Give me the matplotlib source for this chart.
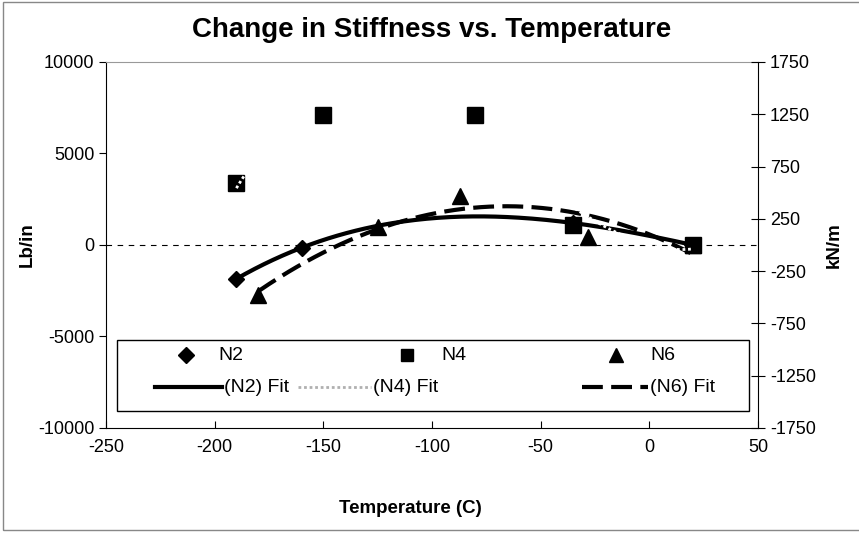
import numpy as np
import matplotlib.pyplot as plt
from matplotlib.lines import Line2D
from matplotlib.patches import Rectangle

plt.rcParams['font.family'] = ['Liberation Sans', 'DejaVu Sans']
plt.rcParams['axes.unicode_minus'] = False

# data (temperature in C, change in stiffness in lb/in)
n2_t = [-190, -160, -35, 20]
n2_v = [-1850, -150, 1200, 0]
n4_t = [-190, -150, -80, -35, 20]
n4_v = [3400, 7100, 7100, 1100, 0]
n6_t = [-180, -125, -87, -28, 20]
n6_v = [-2750, 1000, 2700, 450, 0]

xticks = [-250, -200, -150, -100, -50, 0, 50]
yticks = [-10000, -5000, 0, 5000, 10000]
y2ticks = [-1750, -1250, -750, -250, 250, 750, 1250, 1750]

W, H = 859, 536
fig = plt.figure(figsize=(W / 100, H / 100), dpi=100)
ax = fig.add_axes([106 / W, 1 - 428 / H, 652 / W, 366 / H])


def fit_curve(t, v, deg):
    p = np.polyfit(t, v, deg)
    xs = np.linspace(min(t), max(t), 200)
    return xs, np.polyval(p, xs)


ax.axhline(0, color='black', lw=0.8, ls=(0, (5, 5)), zorder=1)

x, y = fit_curve(n2_t, n2_v, 3)
ax.plot(x, y, color='black', lw=3, solid_capstyle='round', zorder=3)
x, y = fit_curve(n6_t, n6_v, 2)
ax.plot(x, y, color='black', lw=3, dashes=(5, 2), zorder=3)

ax.plot(n2_t, n2_v, 'D', color='black', ms=8, zorder=4)
ax.plot(n4_t, n4_v, 's', color='black', ms=11, zorder=4)
ax.plot(n6_t, n6_v, '^', color='black', ms=11, zorder=4)

# N4 fit is a very light dotted line: only visible where it crosses the squares
x, y = fit_curve(n4_t, n4_v, 3)
ax.plot(x, y, color='white', lw=2, ls=(0, (1, 1)), zorder=5)

ax.set_xlim(-250, 50)
ax.set_ylim(-10000, 10000)
ax.set_xticks(xticks)
ax.set_yticks(yticks)
ax.tick_params(axis='x', direction='in', length=5, labelsize=13, pad=8)
ax.tick_params(axis='y', direction='out', length=5, labelsize=13)
ax.spines['top'].set_color('#999999')
ax.spines['right'].set_visible(False)

ax2 = ax.twinx()
ax2.set_ylim(-1750, 1750)
ax2.set_yticks(y2ticks)
ax2.tick_params(axis='y', direction='inout', length=10, labelsize=13)
ax2.spines['top'].set_visible(False)
ax2.spines['left'].set_visible(False)
ax2.spines['bottom'].set_visible(False)

ax.set_ylabel('Lb/in', fontsize=13.5, fontweight='bold')
ax.yaxis.set_label_coords(-0.107, 0.5)
ax2.set_ylabel('kN/m', fontsize=13.5, fontweight='bold')
ax2.yaxis.set_label_coords(1.104, 0.5)
ax.set_xlabel('Temperature (C)', fontsize=13.5, fontweight='bold')
ax.xaxis.set_label_coords((410 - 106) / 652, -(500 - 428) / 366)
fig.text(432 / W, 1 - 30 / H, 'Change in Stiffness vs. Temperature',
         fontsize=20, fontweight='bold', ha='center', va='center')


# legend drawn by hand to follow the original layout
def px(xp, yp):
    return xp / W, 1 - yp / H


tf = fig.transFigure
fig.add_artist(Rectangle(px(117, 411), 632 / W, 71 / H, transform=tf,
                         fill=False, ec='black', lw=1))
r1, r2 = 355, 387
for xm, mk, ms, xt, label in [(186, 'D', 8, 218, 'N2'),
                              (407, 's', 9, 441, 'N4'),
                              (616, '^', 10, 650, 'N6')]:
    fig.add_artist(Line2D([xm / W], [1 - r1 / H], marker=mk, ms=ms,
                          color='black', ls='none', transform=tf))
    fig.text(xt / W, 1 - r1 / H, label, fontsize=14, va='center')
for x0, x1, style, xt, label in [(155, 222, dict(color='black', lw=3), 224, '(N2) Fit'),
                                 (298, 371, dict(color='#b0b0b0', lw=2, ls=(0, (1, 1))), 373, '(N4) Fit'),
                                 (582, 648, dict(color='black', lw=3, dashes=(5, 2)), 650, '(N6) Fit')]:
    fig.add_artist(Line2D([x0 / W, x1 / W], [1 - r2 / H, 1 - r2 / H],
                          transform=tf, **style))
    fig.text(xt / W, 1 - r2 / H, label, fontsize=14, va='center')

# chart area border (right edge falls outside the scanned image)
fig.add_artist(Rectangle((3 / W, 1 - 530 / H), 870 / W, 528 / H, transform=tf,
                         fill=False, ec='#888888', lw=1))

fig.savefig('out.png', dpi=100)
